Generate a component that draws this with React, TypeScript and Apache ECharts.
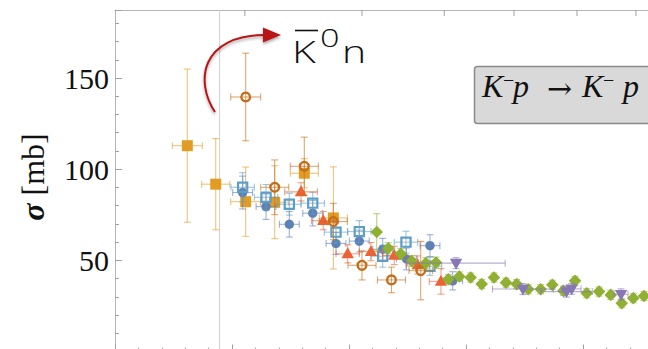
import { useEffect, useRef } from "react";
import * as echarts from "echarts";

// ---- data: [p_lab (MeV/c), sigma (mb), x error, y error] ----
const orangeSquares = [
  [61.8, 112.9, 12.8, 42], [86.1, 91.8, 12, 25], [111.7, 82.2, 12.8, 19],
  [136.5, 81.9, 12, 20], [161.8, 97.8, 12, 8], [186.6, 73.3, 12, 28],
];
const blueCircles = [
  [109.1, 87.2, 8.5, 9], [129.1, 79.5, 8.5, 7], [149, 69.8, 8.5, 7], [169, 75.9, 8.5, 7],
  [188.9, 59.3, 8.5, 6], [208.8, 60.6, 8.5, 6], [228.8, 56.1, 8.5, 6], [249.1, 50.8, 8.5, 6],
  [269.2, 58.1, 8.5, 6], [288.6, 38.8, 8.5, 5],
];
const lightBlueSquares = [
  [109.1, 90.1, 10, 8], [129.1, 84.6, 10, 7], [149, 80.8, 10, 6], [169, 81.4, 10, 6],
  [188.9, 65.5, 10, 6], [208.8, 65.8, 10, 6], [228.8, 52.3, 10, 6], [248.7, 60, 10, 6],
  [269.2, 46.8, 10, 5],
];
const redTriangles = [
  [159, 87.6, 14, 5], [178, 71.8, 10, 5], [198.9, 53.6, 10, 5], [218.8, 54.8, 10, 5],
  [238.7, 52.7, 10, 5], [258.7, 47.5, 10, 5], [278.6, 38.5, 10, 7],
];
const brownCircles = [
  [111.7, 139.6, 12.8, 24], [136.5, 90.1, 12, 15], [161.8, 101.6, 12, 16], [186.6, 71.3, 12, 10],
  [211.1, 47.3, 12, 8], [236.3, 39.3, 12, 7], [261.3, 44.4, 10, 16],
];
const greenDiamonds = [
  [223.7, 65.6, 0, 10], [233.6, 56.7, 0, 3], [244.2, 53.6, 0, 3], [253.6, 49.7, 0, 3],
  [265.6, 48.5, 0, 3], [274.4, 48.8, 0, 3], [284.9, 39.7, 0, 2.5], [294.3, 41.2, 0, 2.5],
  [304, 40.6, 0, 2.5], [313.4, 37, 0, 2.5], [323.9, 40.6, 0, 2.5], [334.2, 37.8, 0, 2.5],
  [343.3, 37, 0, 2.5], [353.2, 34.2, 0, 2.5], [363.8, 34.2, 0, 2.5], [373.8, 36.6, 0, 2.5],
  [383.2, 33.3, 0, 2.5], [393.2, 38.8, 0, 2.5], [403.2, 32, 0, 2.5], [413.7, 32.9, 0, 2.5],
  [423.7, 31.1, 0, 2.5], [433.1, 26.5, 0, 2.5], [443, 29.3, 0, 2.5], [452.1, 30.5, 0, 2.5],
  [461.5, 31.6, 0, 2.5],
];
const purpleTriangles = [
  [291.5, 48.5, 42, 3], [348.7, 34.3, 26, 3], [385.9, 32.9, 22, 3], [390.3, 34.4, 8, 3],
  [432.5, 31.4, 6, 3],
];

// top axis: sqrt(s) in MeV, converted to p_lab
const topTickW = [1440, 1460, 1480, 1500, 1520, 1540];
const thresholdW = 1437.2; // Kbar0 n threshold
const mK = 493.677;
const mp = 938.272;
const plabFromW = (W: number) => {
  const E = (W * W - mK * mK - mp * mp) / (2 * mp);
  return Math.sqrt(Math.max(E * E - mK * mK, 0));
};

const X_MIN = 0;
const X_MAX = 500;
const Y_MIN = 0;
const Y_MAX = 187.3;

const yTickLabels = [50, 100, 150];

function marker(kind: string, cx: number, cy: number, color: string): any {
  switch (kind) {
    case "circle":
      return { type: "circle", shape: { cx, cy, r: 4.7 }, style: { fill: color } };
    case "square":
      return { type: "rect", shape: { x: cx - 5.5, y: cy - 5.5, width: 11, height: 11 }, style: { fill: color } };
    case "openSquare":
      return { type: "rect", shape: { x: cx - 4.6, y: cy - 4.6, width: 9.2, height: 9.2 }, style: { fill: "none", stroke: color, lineWidth: 2.2 } };
    case "openCircle":
      return { type: "circle", shape: { cx, cy, r: 4.4 }, style: { fill: "none", stroke: color, lineWidth: 2.3 } };
    case "triUp":
      return { type: "polygon", shape: { points: [[cx, cy - 6.5], [cx + 6.2, cy + 4.3], [cx - 6.2, cy + 4.3]] }, style: { fill: color } };
    case "triDown":
      return { type: "polygon", shape: { points: [[cx - 6.2, cy - 4.3], [cx + 6.2, cy - 4.3], [cx, cy + 6.5]] }, style: { fill: color } };
    case "diamond":
    default:
      return { type: "polygon", shape: { points: [[cx, cy - 6.3], [cx + 6.3, cy], [cx, cy + 6.3], [cx - 6.3, cy]] }, style: { fill: color } };
  }
}

function makeSeries(name: string, data: number[][], kind: string, color: string, z: number) {
  return {
    type: "custom",
    name,
    z,
    clip: false,
    data,
    encode: { x: 0, y: 1 },
    renderItem: (_params: any, api: any) => {
      const x = api.value(0);
      const y = api.value(1);
      const ex = api.value(2);
      const ey = api.value(3);
      const c = api.coord([x, y]);
      const children: any[] = [];
      const es = { stroke: color, lineWidth: 1.1, opacity: 0.6 };
      const cap = 3.5;
      if (ex > 0) {
        const l = api.coord([x - ex, y]);
        const r = api.coord([x + ex, y]);
        children.push({ type: "line", shape: { x1: l[0], y1: c[1], x2: r[0], y2: c[1] }, style: es });
        children.push({ type: "line", shape: { x1: l[0], y1: c[1] - cap, x2: l[0], y2: c[1] + cap }, style: es });
        children.push({ type: "line", shape: { x1: r[0], y1: c[1] - cap, x2: r[0], y2: c[1] + cap }, style: es });
      }
      if (ey > 0) {
        const t = api.coord([x, y + ey]);
        const b = api.coord([x, y - ey]);
        children.push({ type: "line", shape: { x1: c[0], y1: t[1], x2: c[0], y2: b[1] }, style: es });
        children.push({ type: "line", shape: { x1: c[0] - cap, y1: t[1], x2: c[0] + cap, y2: t[1] }, style: es });
        children.push({ type: "line", shape: { x1: c[0] - cap, y1: b[1], x2: c[0] + cap, y2: b[1] }, style: es });
      }
      children.push(marker(kind, c[0], c[1], color));
      return { type: "group", children };
    },
  };
}

const serif = "Liberation Serif";
const sans = "Open Sans";

function mathText(text: string, x: number, y: number, size: number, italic: boolean, family = serif) {
  return {
    type: "text",
    x,
    y,
    z: 21,
    style: { text, fontFamily: family, fontStyle: italic ? "italic" : "normal", fontSize: size, fill: "#111", verticalAlign: "middle" },
  };
}

function sansText(text: string, x: number, y: number, size: number) {
  return {
    type: "text",
    x,
    y,
    scaleX: 1.32,
    z: 20,
    style: { text, fontFamily: sans, fontWeight: 300, fontSize: size, fill: "#111", verticalAlign: "middle" },
  };
}

export default function App() {
  const ref = useRef<HTMLDivElement>(null);
  useEffect(() => {
    if (!ref.current) return;
    const chart = echarts.init(ref.current, undefined, { renderer: "svg" });
    const frame = "#b5b5b5";
    const tickCol = "#a0a0a0";
    chart.setOption({
      animation: false,
      backgroundColor: "#ffffff",
      grid: {
        left: 115,
        top: 10,
        width: 585,
        height: 341.6,
        show: false,
        containLabel: false,
        outerBoundsMode: "none",
      },
      xAxis: [
        {
          type: "value",
          min: X_MIN,
          max: X_MAX,
          interval: 100,
          position: "bottom",
          axisLine: { show: false },
          axisTick: { show: true, inside: true, length: 7, lineStyle: { color: tickCol } },
          minorTick: { show: true, splitNumber: 5, length: 4, lineStyle: { color: tickCol } },
          axisLabel: { show: false },
          splitLine: { show: false },
        },
        {
          type: "value",
          min: X_MIN,
          max: X_MAX,
          position: "top",
          axisLine: { show: true, onZero: false, lineStyle: { color: frame } },
          axisTick: { show: false },
          axisLabel: { show: false },
          splitLine: { show: false },
        },
      ],
      yAxis: [
        {
          type: "value",
          min: Y_MIN,
          max: Y_MAX,
          interval: 10,
          position: "left",
          axisLine: { show: true, onZero: false, lineStyle: { color: frame } },
          axisTick: { show: true, inside: true, length: 4, lineStyle: { color: tickCol } },
          axisLabel: {
            formatter: (v: number) => (yTickLabels.includes(Math.round(v)) && Math.abs(v - Math.round(v)) < 1e-6 ? String(Math.round(v)) : ""),
            fontFamily: serif,
            fontSize: 30,
            color: "#111",
            margin: 6,
          },
          splitLine: { show: false },
        },
        {
          type: "value",
          min: Y_MIN,
          max: Y_MAX,
          interval: 50,
          position: "left",
          offset: 0,
          axisLine: { show: false },
          axisTick: { show: true, inside: true, length: 7, lineStyle: { color: tickCol } },
          axisLabel: { show: false },
          splitLine: { show: false },
        },
      ],
      series: [
        {
          type: "custom",
          name: "threshold",
          z: 1,
          data: [[plabFromW(thresholdW)]],
          encode: { x: 0 },
          renderItem: (_p: any, api: any) => {
            const a = api.coord([api.value(0), Y_MAX]);
            const b = api.coord([api.value(0), Y_MIN]);
            return { type: "line", shape: { x1: a[0], y1: a[1], x2: b[0], y2: b[1] }, style: { stroke: "#d0d0d0", lineWidth: 1 } };
          },
        },
        {
          type: "custom",
          name: "topTicks",
          z: 1,
          data: topTickW.map((w) => [plabFromW(w)]),
          encode: { x: 0 },
          renderItem: (_p: any, api: any) => {
            const a = api.coord([api.value(0), Y_MAX]);
            return { type: "line", shape: { x1: a[0], y1: a[1], x2: a[0], y2: a[1] + 6 }, style: { stroke: tickCol, lineWidth: 1 } };
          },
        },
        makeSeries("orange", orangeSquares, "square", "#E19C24", 2),
        makeSeries("blue", blueCircles, "circle", "#5E81B5", 3),
        makeSeries("lightblue", lightBlueSquares, "openSquare", "#5D9EC7", 4),
        makeSeries("red", redTriangles, "triUp", "#EB6235", 5),
        makeSeries("brown", brownCircles, "openCircle", "#C56E1A", 6),
        makeSeries("green", greenDiamonds, "diamond", "#8FB032", 7),
        makeSeries("purple", purpleTriangles, "triDown", "#8778B3", 8),
      ],
      graphic: [
        // y axis title
        {
          type: "text",
          x: 33,
          y: 177,
          rotation: Math.PI / 2,
          style: {
            text: "{s|σ} [mb]",
            fontFamily: serif,
            fontSize: 32,
            fill: "#111",
            align: "center",
            verticalAlign: "middle",
            rich: { s: { fontStyle: "italic", fontWeight: "bold", fontFamily: serif, fontSize: 32, fill: "#111" } },
          },
        },
        // red curved arrow
        {
          type: "bezierCurve",
          shape: { x1: 215, y1: 112, cpx1: 195, cpy1: 82, cpx2: 200, cpy2: 35, x2: 266, y2: 35 },
          style: { stroke: "#B81414", lineWidth: 2, fill: "none", shadowBlur: 3, shadowColor: "rgba(0,0,0,0.35)", shadowOffsetY: 2 },
          z: 20,
        },
        {
          type: "polygon",
          shape: { points: [[263, 27.5], [281, 35], [263, 42.5]] },
          style: { fill: "#B81414", shadowBlur: 3, shadowColor: "rgba(0,0,0,0.35)", shadowOffsetY: 2 },
          z: 20,
        },
        // Kbar0 n label
        {
          type: "line",
          shape: { x1: 295, y1: 30.5, x2: 318, y2: 30.5 },
          style: { stroke: "#111", lineWidth: 1.6 },
          z: 20,
        },
        sansText("K", 292, 51.3, 31),
        sansText("0", 320, 36.6, 26),
        sansText("n", 342, 51.3, 31),
        // process box
        {
          type: "rect",
          shape: { x: 474.5, y: 66.5, width: 200, height: 57, r: 3 },
          style: { fill: "#d9d9d9", stroke: "#8a8a8a", lineWidth: 1.5 },
          z: 20,
        },
        mathText("K", 482, 86, 32, true),
        mathText("−", 503, 80, 20, false),
        mathText("p", 513, 86, 32, true),
        mathText("→", 547, 88, 30, false, "DejaVu Serif"),
        mathText("K", 582, 86, 32, true),
        mathText("−", 603, 80, 20, false),
        mathText("p", 623, 86, 32, true),
      ],
    });
    return () => chart.dispose();
  }, []);
  return <div ref={ref} style={{ position: "fixed", left: 0, top: 0, width: 648, height: 349 }} />;
}
